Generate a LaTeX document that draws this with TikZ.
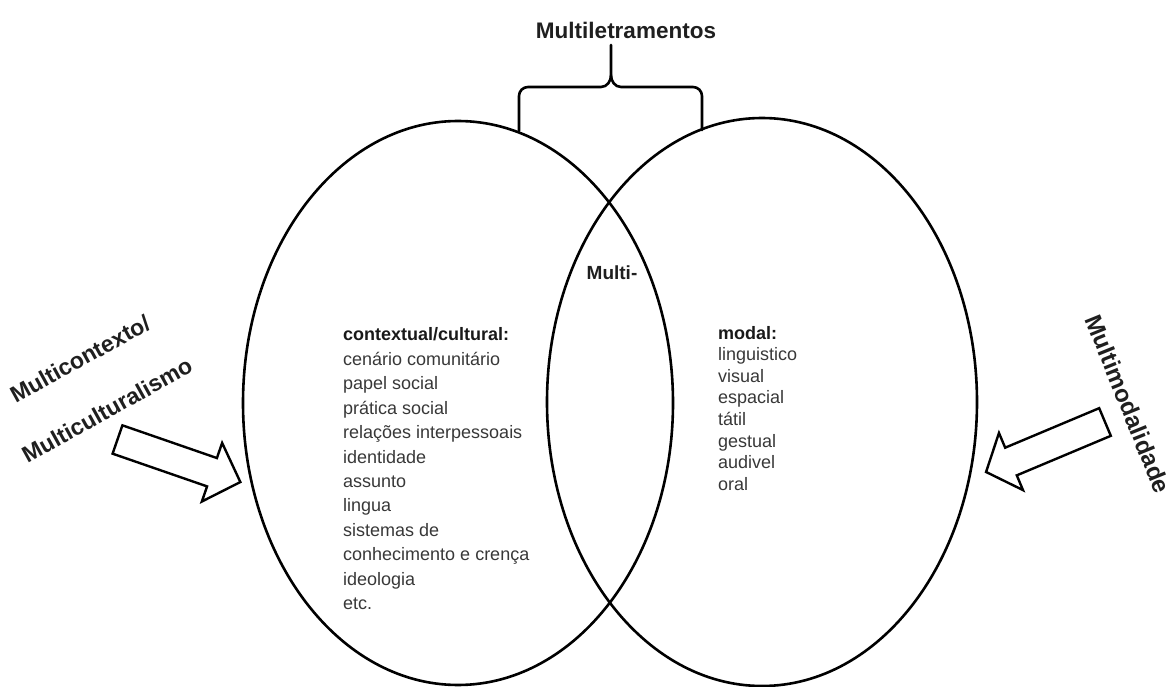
\documentclass[tikz,border=0pt]{standalone}
\usepackage{fontspec}
\setmainfont{Liberation Sans}
\usetikzlibrary{shapes.geometric}
\begin{document}
\begin{tikzpicture}[x=1pt,y=1pt,
  ell/.style={ellipse, draw=black, line width=2.6pt, inner sep=0pt},
  brk/.style={draw=black, line width=2.6pt, line join=round, line cap=round},
  blockarrow/.style={draw=black, line width=2.4pt, fill=white, line join=miter},
  lbl/.style={font=\fontsize{23}{27}\selectfont\bfseries, text=black!88, inner sep=0pt},
  itemtxt/.style={font=\fontsize{18}{21}\selectfont, text=black!78, anchor=base west, inner sep=0pt},
  itemhead/.style={itemtxt, font=\fontsize{18}{21}\selectfont\bfseries, text=black!90}]
\useasboundingbox (0,0) rectangle (1171,-687);
% ellipses
\node[ell, minimum width=430, minimum height=564] (leftell) at (458,-403) {};
\node[ell, minimum width=430, minimum height=568] (rightell) at (762,-402) {};
% bracket
\coordinate (bl) at (519,-131);
\coordinate (br) at (702,-130);
\coordinate (bs) at (611,-45);
\draw[brk] (bl) -- (519,-96) to[out=90,in=180] (528,-87) -- (601,-87) to[out=0,in=-90] (611,-75) -- (bs);
\draw[brk] (br) -- (702,-96) to[out=90,in=0] (693,-87) -- (621,-87) to[out=180,in=-90] (611,-75);
\node[lbl, font=\fontsize{22.5}{27}\selectfont\bfseries] (mlt) at (626,-30) {Multiletramentos};
% block arrows
\draw[blockarrow, shift={(117.5,-439.5)}, rotate=-19.1]
  (0,15) -- (100,15) -- (100,31) -- (130,0) -- (100,-31) -- (100,-15) -- (0,-15) -- cycle;
\draw[blockarrow, shift={(1105,-422)}, rotate=202.8]
  (0,15) -- (102,15) -- (102,31) -- (129,0) -- (102,-31) -- (102,-15) -- (0,-15) -- cycle;
% side labels
\node[lbl, rotate=29] (mctx) at (80,-359) {Multicontexto/};
\node[lbl, rotate=29] (mcul) at (107,-410) {Multiculturalismo};
\node[lbl, font=\fontsize{24}{28}\selectfont\bfseries, rotate=-68] (mmod) at (1128,-404) {Multimodalidade};
% centre
\node[lbl, font=\fontsize{19}{22}\selectfont\bfseries] (multi) at (612,-273) {Multi-};
% left list
\node[itemhead] (ctxh) at (343,-341) {contextual/cultural:};
\foreach \t [count=\i] in {cenário comunitário, papel social, prática social, relações interpessoais, identidade, assunto, lingua, sistemas de, conhecimento e crença, ideologia, etc.}
  \node[itemtxt] (ctx\i) at (343,{-341-24.4*\i}) {\t};
% right list
\node[itemhead] (modh) at (718,-339) {modal:};
\foreach \t [count=\i] in {linguistico, visual, espacial, tátil, gestual, audivel, oral}
  \node[itemtxt] (mod\i) at (718,{-339-21.6*\i}) {\t};
\end{tikzpicture}
\end{document}
